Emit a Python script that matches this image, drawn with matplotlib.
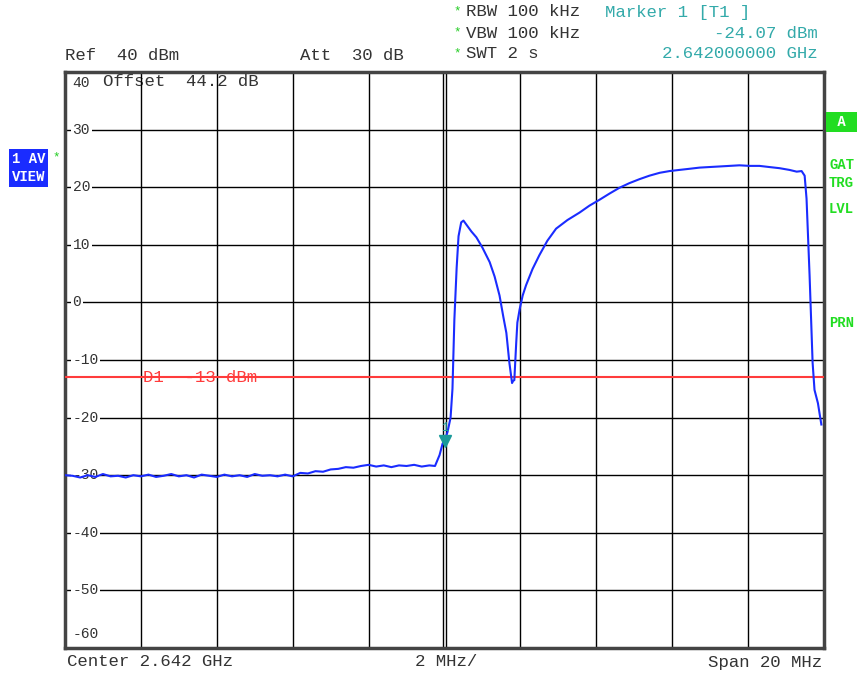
import numpy as np
import matplotlib.pyplot as plt

# trace: frequency offset from centre (MHz) and level (dBm)
noise_f = [-10.0, -9.8, -9.6, -9.4, -9.2, -9.0, -8.8, -8.6, -8.4, -8.2, -8.0, -7.8, -7.6, -7.4,
           -7.2, -7.0, -6.8, -6.6, -6.4, -6.2, -6.0, -5.8, -5.6, -5.4, -5.2, -5.0, -4.8, -4.6,
           -4.4, -4.2, -4.0, -3.8, -3.6, -3.4, -3.2, -3.0, -2.8, -2.6, -2.4, -2.2, -2.0, -1.8,
           -1.6, -1.4, -1.2, -1.0, -0.8, -0.6, -0.4, -0.25]
noise_v = [-30.0, -30.1, -30.4, -30.0, -30.3, -29.8, -30.2, -30.1, -30.4, -30.0, -30.2, -29.9,
           -30.3, -30.1, -29.8, -30.2, -30.0, -30.4, -29.9, -30.1, -30.3, -29.9, -30.2, -30.0,
           -30.3, -29.8, -30.1, -30.0, -30.2, -29.9, -30.2, -29.6, -29.7, -29.3, -29.4, -29.0,
           -28.9, -28.6, -28.7, -28.4, -28.2, -28.5, -28.3, -28.6, -28.3, -28.4, -28.2, -28.5,
           -28.3, -28.4]
sig_f = [-0.13, -0.05, 0.0, 0.08, 0.16, 0.21, 0.26, 0.32, 0.37, 0.44, 0.5, 0.61, 0.71, 0.84,
         1.0, 1.19, 1.32, 1.45, 1.55, 1.63, 1.71, 1.78, 1.81, 1.84, 1.89, 1.92, 1.98, 2.06,
         2.15, 2.32, 2.5, 2.71, 2.94, 3.24, 3.56, 3.82, 4.08, 4.35, 4.61, 4.87, 5.14, 5.40,
         5.67, 5.93, 6.19, 6.46, 6.72, 6.98, 7.25, 7.51, 7.77, 8.04, 8.30, 8.56, 8.83, 9.09,
         9.28, 9.41, 9.49, 9.54, 9.62, 9.70, 9.75, 9.84, 9.93]
sig_v = [-26.5, -24.5, -24.07, -22.5, -20.0, -15.0, -3.0, 6.0, 11.5, 13.9, 14.2, 13.2, 12.3,
         11.3, 9.5, 7.0, 4.5, 1.2, -2.5, -5.3, -10.5, -14.0, -13.6, -13.5, -7.0, -3.5, -1.2,
         1.2, 3.0, 5.8, 8.2, 10.7, 12.8, 14.3, 15.6, 16.8, 17.8, 18.9, 19.9, 20.7, 21.4, 22.0,
         22.5, 22.8, 23.0, 23.2, 23.4, 23.5, 23.6, 23.7, 23.8, 23.7, 23.7, 23.5, 23.3, 23.0,
         22.7, 22.8, 22.0, 18.0, 4.7, -10.5, -15.2, -17.5, -21.2]
y_ticks = [30, 20, 10, 0, -10, -20, -30, -40, -50]
display_line = -13
marker_f, marker_v = 0.0, -24.07

freq = noise_f + sig_f
level = noise_v + sig_v

plt.rcParams['font.family'] = ['Liberation Mono', 'DejaVu Sans Mono']
fig = plt.figure(figsize=(8.57, 6.74), dpi=100)
ax = fig.add_axes([65/857, 1-648/674, 759/857, 576/674])
ax.set_xlim(-10, 10)
ax.set_ylim(-60, 40)
ax.set_xticks([])
ax.set_yticks([])
for s in ax.spines.values():
    s.set_linewidth(2.5)
    s.set_color('#444444')

for gx in np.arange(-8, 10, 2):
    if gx == 0:
        ax.axvline(-0.05, color='black', lw=1.0, zorder=1)
        ax.axvline(0.05, color='black', lw=1.0, zorder=1)
    else:
        ax.axvline(gx, color='black', lw=1.0, zorder=1)
for gy in y_ticks:
    ax.axhline(gy, color='black', lw=1.0, zorder=1)
    ax.text(-9.8, gy, str(gy), fontsize=10.5, color='#333333', va='center', ha='left',
            bbox=dict(facecolor='white', edgecolor='none', pad=1), zorder=2)
ax.text(-9.8, 38.1, '40', fontsize=10.5, color='#333333', va='center', ha='left')
ax.text(-9.8, -57.5, '-60', fontsize=10.5, color='#333333', va='center', ha='left')
ax.text(-9.0, 38.4, 'Offset  44.2 dB', fontsize=12.5, color='#333333', va='center', ha='left', zorder=0.5)

ax.axhline(display_line, color='#ff3b3b', lw=1.5, zorder=3)
ax.text(-7.95, display_line, 'D1  -13 dBm', fontsize=12.5, color='#ff3b3b', va='center', ha='left', zorder=3)

ax.plot(freq, level, color='#1a2cff', lw=1.5, zorder=4)
ax.plot(marker_f, marker_v, marker='v', color='#1a9a9a', markersize=8, zorder=5)
ax.text(marker_f, marker_v + 2.3, '1', fontsize=9, color='#1a9a9a', ha='center', va='center', zorder=5)

# header / footer annotations
def ftext(x, y, s, size=12.5, **kw):
    fig.text(x/857, 1-y/674, s, fontsize=size, va='center', **kw)

ftext(65, 55, 'Ref  40 dBm', color='#333333')
ftext(300, 55, 'Att  30 dB', color='#333333')
for yy, s in [(12, 'RBW 100 kHz'), (33, 'VBW 100 kHz'), (54, 'SWT 2 s')]:
    ftext(453, yy - 1, '*', color='#22cc22', size=9)
    ftext(466, yy, s, color='#333333')
ftext(605, 12, 'Marker 1 [T1 ]', color='#33aaaa')
ftext(818, 33, '-24.07 dBm', color='#33aaaa', ha='right')
ftext(818, 54, '2.642000000 GHz', color='#33aaaa', ha='right')
ftext(67, 662, 'Center 2.642 GHz', color='#333333')
ftext(415, 662, '2 MHz/', color='#333333')
ftext(822, 662, 'Span 20 MHz', color='#333333', ha='right')

ftext(12, 159, '1 AV', color='white', fontweight='bold', size=10,
      bbox=dict(facecolor='#1a2cff', edgecolor='none', pad=2))
ftext(12, 177, 'VIEW', color='white', fontweight='bold', size=10,
      bbox=dict(facecolor='#1a2cff', edgecolor='none', pad=2))
ftext(52, 157, '*', color='#22cc22', size=9)
ftext(829, 122, ' A ', color='white', fontweight='bold', size=10,
      bbox=dict(facecolor='#22dd22', edgecolor='none', pad=2))
for yy, s in [(165, 'GAT'), (183, 'TRG'), (209, 'LVL'), (323, 'PRN')]:
    ftext(829, yy, s, color='#22dd22', fontweight='bold', size=10)

fig.savefig('out.png', dpi=100)
